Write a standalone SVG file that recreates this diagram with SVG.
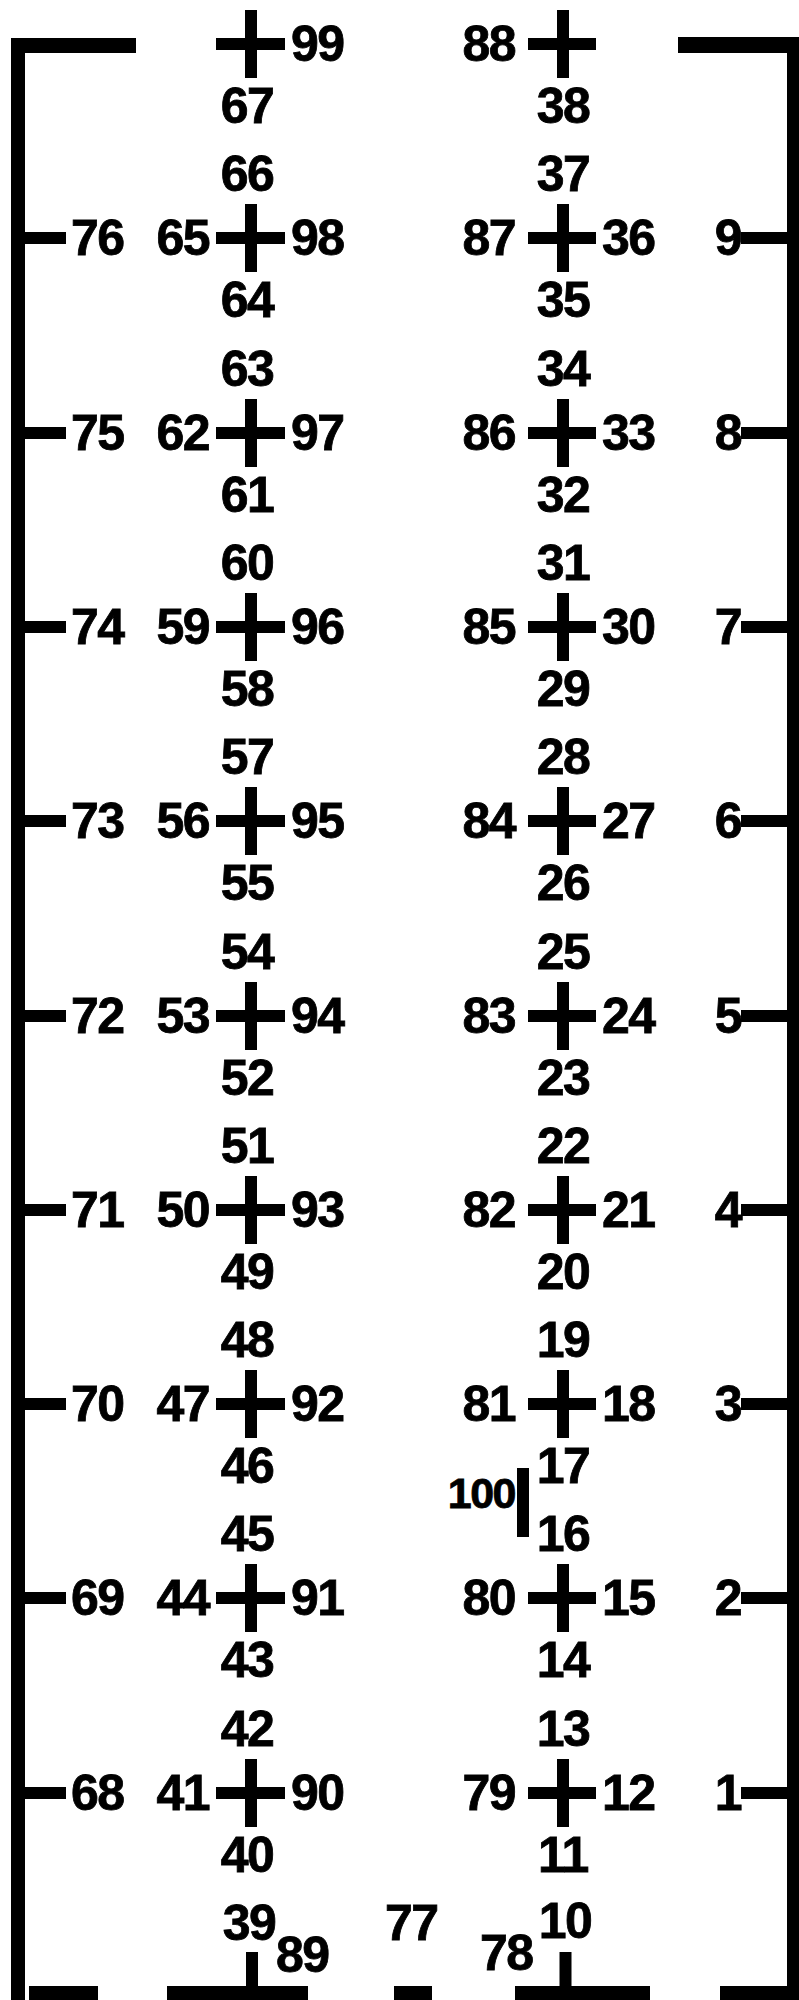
<svg xmlns="http://www.w3.org/2000/svg" width="799" height="2000" viewBox="0 0 799 2000">
<style>
.ln{stroke:#000;stroke-width:12;fill:none;stroke-linecap:butt}
.fr{fill:#000}
text{font-family:"Liberation Sans",Arial,sans-serif;font-weight:bold;font-size:50px;letter-spacing:-1.5px;fill:#000;stroke:#000;stroke-width:0.8px}
.m{text-anchor:middle}.e{text-anchor:end}.s{text-anchor:start}
.sm{font-size:43px}
</style>
<rect width="799" height="2000" fill="#fff"/>
<g id="frame">
<rect class="fr" x="11" y="38" width="14" height="1962"/>
<rect class="fr" x="11" y="38" width="125" height="15"/>
<rect class="fr" x="678" y="37" width="121" height="16"/>
<rect class="fr" x="787" y="37" width="12" height="1963"/>
<rect class="fr" x="29" y="1986" width="69" height="14"/>
<rect class="fr" x="167" y="1986" width="141" height="14"/>
<rect class="fr" x="394" y="1986" width="38" height="14"/>
<rect class="fr" x="515" y="1986" width="135" height="14"/>
<rect class="fr" x="720" y="1986" width="70" height="14"/>
</g>
<g id="connectors">
<path class="ln" d="M25,238H66M25,433H66M25,627H66M25,821H66M25,1016H66M25,1210H66M25,1404H66M25,1598H66M25,1793H66"/>
<path class="ln" d="M741,238H788M741,433H788M741,627H788M741,821H788M741,1016H788M741,1210H788M741,1404H788M741,1598H788M741,1793H788"/>
<path class="ln" d="M252,1952V1987M565.5,1952V1986"/>
<path class="ln" d="M523,1468V1537"/>
</g>
<g id="left-ticks">
<text class="s" x="71" y="255">76</text>
<text class="s" x="71" y="450">75</text>
<text class="s" x="71" y="644">74</text>
<text class="s" x="71" y="838">73</text>
<text class="s" x="71" y="1033">72</text>
<text class="s" x="71" y="1227">71</text>
<text class="s" x="71" y="1421">70</text>
<text class="s" x="71" y="1615">69</text>
<text class="s" x="71" y="1810">68</text>
</g>
<g id="right-ticks">
<text class="e" x="741" y="255">9</text>
<text class="e" x="741" y="450">8</text>
<text class="e" x="741" y="644">7</text>
<text class="e" x="741" y="838">6</text>
<text class="e" x="741" y="1033">5</text>
<text class="e" x="741" y="1227">4</text>
<text class="e" x="741" y="1421">3</text>
<text class="e" x="741" y="1615">2</text>
<text class="e" x="741" y="1810">1</text>
</g>
<g id="c1r1" transform="translate(0,44)"><path class="ln" d="M216,0H285M251,-34V34"/><text class="s" x="291" y="17">99</text><text class="m" x="247" y="79">67</text></g>
<g id="c1r2" transform="translate(0,238)"><path class="ln" d="M216,0H285M251,-34V34"/><text class="m" x="247" y="-47">66</text><text class="e" x="209" y="17">65</text><text class="s" x="291" y="17">98</text><text class="m" x="247" y="79">64</text></g>
<g id="c1r3" transform="translate(0,433)"><path class="ln" d="M216,0H285M251,-34V34"/><text class="m" x="247" y="-47">63</text><text class="e" x="209" y="17">62</text><text class="s" x="291" y="17">97</text><text class="m" x="247" y="79">61</text></g>
<g id="c1r4" transform="translate(0,627)"><path class="ln" d="M216,0H285M251,-34V34"/><text class="m" x="247" y="-47">60</text><text class="e" x="209" y="17">59</text><text class="s" x="291" y="17">96</text><text class="m" x="247" y="79">58</text></g>
<g id="c1r5" transform="translate(0,821)"><path class="ln" d="M216,0H285M251,-34V34"/><text class="m" x="247" y="-47">57</text><text class="e" x="209" y="17">56</text><text class="s" x="291" y="17">95</text><text class="m" x="247" y="79">55</text></g>
<g id="c1r6" transform="translate(0,1016)"><path class="ln" d="M216,0H285M251,-34V34"/><text class="m" x="247" y="-47">54</text><text class="e" x="209" y="17">53</text><text class="s" x="291" y="17">94</text><text class="m" x="247" y="79">52</text></g>
<g id="c1r7" transform="translate(0,1210)"><path class="ln" d="M216,0H285M251,-34V34"/><text class="m" x="247" y="-47">51</text><text class="e" x="209" y="17">50</text><text class="s" x="291" y="17">93</text><text class="m" x="247" y="79">49</text></g>
<g id="c1r8" transform="translate(0,1404)"><path class="ln" d="M216,0H285M251,-34V34"/><text class="m" x="247" y="-47">48</text><text class="e" x="209" y="17">47</text><text class="s" x="291" y="17">92</text><text class="m" x="247" y="79">46</text></g>
<g id="c1r9" transform="translate(0,1598)"><path class="ln" d="M216,0H285M251,-34V34"/><text class="m" x="247" y="-47">45</text><text class="e" x="209" y="17">44</text><text class="s" x="291" y="17">91</text><text class="m" x="247" y="79">43</text></g>
<g id="c1r10" transform="translate(0,1793)"><path class="ln" d="M216,0H285M251,-34V34"/><text class="m" x="247" y="-47">42</text><text class="e" x="209" y="17">41</text><text class="s" x="291" y="17">90</text><text class="m" x="247" y="79">40</text></g>
<g id="c2r1" transform="translate(0,44)"><path class="ln" d="M528,0H596M563,-34V34"/><text class="e" x="515" y="17">88</text><text class="m" x="563" y="79">38</text></g>
<g id="c2r2" transform="translate(0,238)"><path class="ln" d="M528,0H596M563,-34V34"/><text class="m" x="563" y="-47">37</text><text class="e" x="515" y="17">87</text><text class="s" x="602" y="17">36</text><text class="m" x="563" y="79">35</text></g>
<g id="c2r3" transform="translate(0,433)"><path class="ln" d="M528,0H596M563,-34V34"/><text class="m" x="563" y="-47">34</text><text class="e" x="515" y="17">86</text><text class="s" x="602" y="17">33</text><text class="m" x="563" y="79">32</text></g>
<g id="c2r4" transform="translate(0,627)"><path class="ln" d="M528,0H596M563,-34V34"/><text class="m" x="563" y="-47">31</text><text class="e" x="515" y="17">85</text><text class="s" x="602" y="17">30</text><text class="m" x="563" y="79">29</text></g>
<g id="c2r5" transform="translate(0,821)"><path class="ln" d="M528,0H596M563,-34V34"/><text class="m" x="563" y="-47">28</text><text class="e" x="515" y="17">84</text><text class="s" x="602" y="17">27</text><text class="m" x="563" y="79">26</text></g>
<g id="c2r6" transform="translate(0,1016)"><path class="ln" d="M528,0H596M563,-34V34"/><text class="m" x="563" y="-47">25</text><text class="e" x="515" y="17">83</text><text class="s" x="602" y="17">24</text><text class="m" x="563" y="79">23</text></g>
<g id="c2r7" transform="translate(0,1210)"><path class="ln" d="M528,0H596M563,-34V34"/><text class="m" x="563" y="-47">22</text><text class="e" x="515" y="17">82</text><text class="s" x="602" y="17">21</text><text class="m" x="563" y="79">20</text></g>
<g id="c2r8" transform="translate(0,1404)"><path class="ln" d="M528,0H596M563,-34V34"/><text class="m" x="563" y="-47">19</text><text class="e" x="515" y="17">81</text><text class="s" x="602" y="17">18</text><text class="m" x="563" y="79">17</text></g>
<g id="c2r9" transform="translate(0,1598)"><path class="ln" d="M528,0H596M563,-34V34"/><text class="m" x="563" y="-47">16</text><text class="e" x="515" y="17">80</text><text class="s" x="602" y="17">15</text><text class="m" x="563" y="79">14</text></g>
<g id="c2r10" transform="translate(0,1793)"><path class="ln" d="M528,0H596M563,-34V34"/><text class="m" x="563" y="-47">13</text><text class="e" x="515" y="17">79</text><text class="s" x="602" y="17">12</text><text class="m" x="563" y="79">11</text></g>
<g id="switch100"><text class="e sm" x="515" y="1508">100</text></g>
<g id="bottom-labels">
<text class="m" x="249" y="1940">39</text>
<text class="s" x="276" y="1972">89</text>
<text class="s" x="385" y="1940">77</text>
<text class="s" x="480" y="1970">78</text>
<text class="m" x="565" y="1938">10</text>
</g>
</svg>
